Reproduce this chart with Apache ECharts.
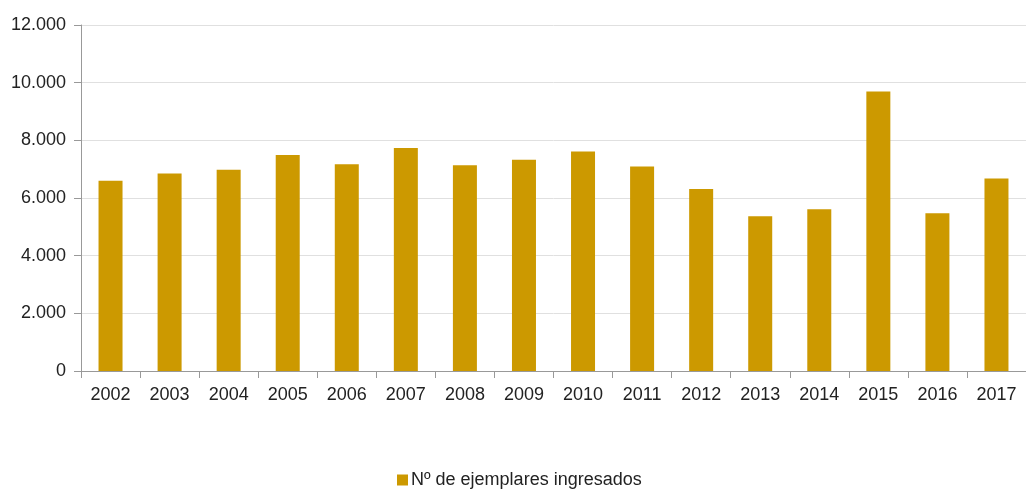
<!DOCTYPE html>
<html>
<head>
<meta charset="utf-8">
<script src="https://cdn.jsdelivr.net/npm/echarts@6/dist/echarts.min.js"></script>
<style>html,body{margin:0;padding:0;background:#fff}#c{width:1026px;height:490px}</style>
</head>
<body>
<div id="c"></div>
<script>
var categories = ["2002","2003","2004","2005","2006","2007","2008","2009","2010","2011","2012","2013","2014","2015","2016","2017"];
var ejemplares = [6600, 6850, 6980, 7490, 7170, 7730, 7140, 7330, 7610, 7090, 6310, 5370, 5610, 9690, 5470, 6680];
var seriesName = "Nº de ejemplares ingresados";

function fmt(v){ return String(v).replace(/\B(?=(\d{3})+(?!\d))/g, "."); }

var chart = echarts.init(document.getElementById('c'));
chart.setOption({
  animation: false,
  textStyle: { fontFamily: "Liberation Sans, Arial, sans-serif" },
  grid: { left: 81, top: 25, width: 949, bottom: 119, containLabel: false },
  legend: {
    top: 471, left: 397,
    padding: 0,
    icon: 'rect', itemWidth: 11, itemHeight: 11, itemGap: 10,
    textStyle: { fontSize: 18, color: '#222', fontFamily: "Liberation Sans, Arial, sans-serif", padding: [0,0,0,-2] },
    data: [seriesName]
  },
  xAxis: {
    type: 'category', data: categories,
    axisLine: { lineStyle: { color: '#999', width: 1 } },
    axisTick: { show: true, length: 7, alignWithLabel: false, lineStyle: { color: '#999' } },
    axisLabel: { fontSize: 18, color: '#222', margin: 15 }
  },
  yAxis: {
    type: 'value', min: 0, max: 12000, interval: 2000,
    axisLine: { show: true, lineStyle: { color: '#999', width: 1 } },
    axisTick: { show: true, length: 7, lineStyle: { color: '#999' } },
    splitLine: { lineStyle: { color: '#e0e0e0', width: 1 } },
    axisLabel: { fontSize: 18, color: '#222', margin: 15, formatter: fmt }
  },
  series: [{
    name: seriesName, type: 'bar', data: ejemplares,
    barWidth: 24,
    itemStyle: { color: '#CC9900' }
  }]
});
</script>
</body>
</html>
